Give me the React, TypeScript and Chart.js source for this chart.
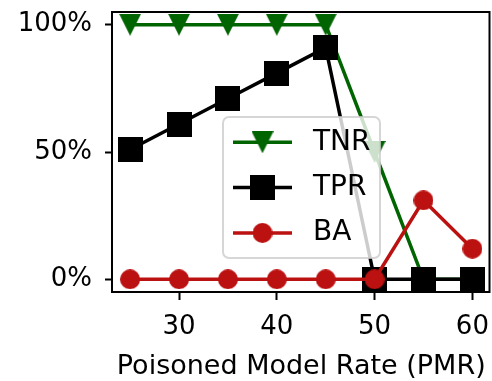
import React, { useEffect, useRef } from 'react';
import { Chart, registerables } from 'chart.js';

Chart.register(...registerables);

const pmr = [25, 30, 35, 40, 45, 50, 55, 60];
const tnr = [100, 100, 100, 100, 100, 50, 0, 0];
const tpr = [51, 61, 71, 81, 91, 0, 0, 0];
const ba = [0, 0, 0, 0, 0, 0, 31, 12];
const seriesNames = ['TNR', 'TPR', 'BA'];
const seriesColors = ['#006400', '#000000', '#bb1111'];
const xTicks = [30, 40, 50, 60];
const yTicks = [0, 50, 100];
const yTickLabels = ['0%', '50%', '100%'];
const xTitle = 'Poisoned Model Rate (PMR)';

const FONT = 'DejaVu Sans';

function makeMarker(kind: string, color: string): HTMLCanvasElement {
  const c = document.createElement('canvas');
  const size = kind === 'tri' ? 22 : kind === 'sq' ? 25 : 20;
  c.width = size;
  c.height = size;
  const g = c.getContext('2d')!;
  g.fillStyle = color;
  g.beginPath();
  if (kind === 'tri') {
    g.moveTo(0, 0);
    g.lineTo(size, 0);
    g.lineTo(size / 2, size);
    g.closePath();
  } else if (kind === 'sq') {
    g.rect(0, 0, size, size);
  } else {
    g.arc(size / 2, size / 2, size / 2, 0, Math.PI * 2);
  }
  g.fill();
  return c;
}

const zeroPad = () => ({ left: 0, top: 0, right: 0, bottom: 0 });

export default function App() {
  const ref = useRef<HTMLCanvasElement | null>(null);

  useEffect(() => {
    if (!ref.current) return;
    const markers = [
      makeMarker('tri', seriesColors[0]),
      makeMarker('sq', seriesColors[1]),
      makeMarker('circ', seriesColors[2]),
    ];
    const values = [tnr, tpr, ba];

    const spines = {
      id: 'spines',
      afterDatasetsDraw(chart: any) {
        const { ctx, chartArea } = chart;
        const { left, top, right, bottom } = chartArea;
        ctx.save();
        ctx.strokeStyle = '#000';
        ctx.lineWidth = 2;
        ctx.strokeRect(left - 1, top, right - left + 1, bottom - top);
        ctx.restore();
      },
    };

    const legend = {
      id: 'customLegend',
      afterDraw(chart: any) {
        const { ctx, chartArea } = chart;
        const bx = chartArea.left + 110;
        const by = chartArea.top + 105;
        const bw = 157;
        const bh = 141;
        const r = 6;
        ctx.save();
        ctx.beginPath();
        ctx.moveTo(bx + r, by);
        ctx.lineTo(bx + bw - r, by);
        ctx.arcTo(bx + bw, by, bx + bw, by + r, r);
        ctx.lineTo(bx + bw, by + bh - r);
        ctx.arcTo(bx + bw, by + bh, bx + bw - r, by + bh, r);
        ctx.lineTo(bx + r, by + bh);
        ctx.arcTo(bx, by + bh, bx, by + bh - r, r);
        ctx.lineTo(bx, by + r);
        ctx.arcTo(bx, by, bx + r, by, r);
        ctx.closePath();
        ctx.fillStyle = 'rgba(255,255,255,0.8)';
        ctx.fill();
        ctx.strokeStyle = 'rgba(204,204,204,0.8)';
        ctx.lineWidth = 2;
        ctx.stroke();
        seriesNames.forEach((name, i) => {
          const y = by + 25.3 + i * 45.3;
          ctx.beginPath();
          ctx.strokeStyle = seriesColors[i];
          ctx.lineWidth = 3.5;
          ctx.moveTo(bx + 10, y);
          ctx.lineTo(bx + 69, y);
          ctx.stroke();
          const m = markers[i];
          ctx.drawImage(m, bx + 39.5 - m.width / 2, y - m.height / 2);
          ctx.fillStyle = '#000';
          ctx.font = `28px "${FONT}"`;
          ctx.textBaseline = 'middle';
          ctx.textAlign = 'left';
          ctx.fillText(name, bx + 90, y);
        });
        ctx.restore();
      },
    };

    const chart = new Chart(ref.current, {
      type: 'line',
      data: {
        datasets: seriesNames.map((name, i) => ({
          label: name,
          data: pmr.map((x, j) => ({ x, y: values[i][j] })),
          borderColor: seriesColors[i],
          backgroundColor: seriesColors[i],
          borderWidth: 3.5,
          pointStyle: markers[i] as any,
          pointRadius: 1,
          pointHoverRadius: 1,
          pointBorderWidth: 0,
          pointHoverBorderWidth: 0,
          fill: false,
          tension: 0,
          order: 3 - i,
          clip: false as any,
        })),
      },
      options: {
        responsive: false,
        animation: false,
        devicePixelRatio: 1,
        layout: { padding: { top: 12, right: 2.5, left: 0, bottom: 0 } },
        plugins: {
          legend: { display: false },
          tooltip: { enabled: false },
        },
        scales: {
          x: {
            type: 'linear',
            min: 23.25,
            max: 61.75,
            afterBuildTicks: (s: any) => {
              s.ticks = xTicks.map((v) => ({ value: v }));
            },
            afterFit: (s: any) => {
              s.height = 89;
              s.paddingLeft = 0;
              s.paddingRight = 0;
              s.paddingTop = 0;
              s.paddingBottom = 0;
              s.getPadding = zeroPad;
            },
            grid: {
              display: true,
              drawOnChartArea: false,
              drawTicks: true,
              tickLength: 8,
              tickWidth: 2,
              tickColor: '#000',
              color: '#000',
            },
            border: { display: false },
            ticks: {
              color: '#000',
              font: { family: FONT, size: 26 },
              padding: 12,
              maxRotation: 0,
              autoSkip: false,
            },
            title: {
              display: true,
              text: xTitle,
              color: '#000',
              font: { family: FONT, size: 27, lineHeight: 1 },
              padding: { top: 0, bottom: 1 },
            },
          },
          y: {
            type: 'linear',
            min: -5,
            max: 105,
            afterBuildTicks: (s: any) => {
              s.ticks = yTicks.map((v) => ({ value: v }));
            },
            afterFit: (s: any) => {
              s.width = 113;
              s.paddingLeft = 0;
              s.paddingRight = 0;
              s.paddingTop = 0;
              s.paddingBottom = 0;
              s.getPadding = zeroPad;
            },
            grid: {
              display: true,
              drawOnChartArea: false,
              drawTicks: true,
              tickLength: 8,
              tickWidth: 2,
              tickColor: '#000',
              color: '#000',
            },
            border: { display: false },
            ticks: {
              color: '#000',
              font: { family: FONT, size: 26 },
              padding: 13,
              autoSkip: false,
              callback: (v: any) => {
                const k = yTicks.indexOf(Number(v));
                return k >= 0 ? yTickLabels[k] : '';
              },
            },
          },
        },
      },
      plugins: [spines, legend],
    });
    return () => chart.destroy();
  }, []);

  return (
    <div style={{ position: 'absolute', left: 0, top: 0, width: 492, height: 381 }}>
      <canvas ref={ref} width={492} height={381} style={{ display: 'block' }} />
    </div>
  );
}
